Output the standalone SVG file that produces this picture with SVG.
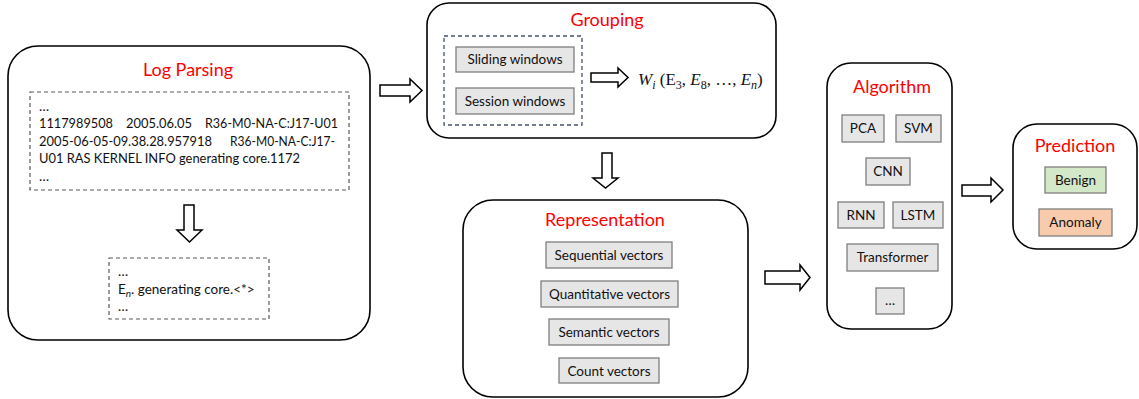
<svg xmlns="http://www.w3.org/2000/svg" width="1139" height="399" viewBox="0 0 1139 399">
<style>
.stage{fill:#fff;stroke:#000;stroke-width:1.6}
.title{font-family:Lato,"Open Sans",sans-serif;font-size:18px;fill:#ff0000;text-anchor:middle}
.item{fill:#e7e6e6;stroke:#7f7f7f;stroke-width:1.3}
.lbl{font-family:Lato,"Open Sans",sans-serif;font-size:13.5px;fill:#111;text-anchor:middle}
.log{font-family:Lato,"Open Sans",sans-serif;font-size:13.5px;fill:#111}
.dash{fill:none;stroke:#595959;stroke-width:1.2;stroke-dasharray:4 3}
.arrow{fill:#fff;stroke:#000;stroke-width:1.5;stroke-linejoin:miter}
.math{font-family:"Liberation Serif",serif;font-size:17px;fill:#111}
</style>
<rect width="1139" height="399" fill="#fff"/>

<g id="log-parsing">
<rect class="stage" x="8" y="46" width="362" height="294" rx="30"/>
<text class="title" x="188" y="76">Log Parsing</text>
<rect class="dash" x="30" y="92" width="319" height="98"/>
<text class="log" x="39" y="111">…</text>
<text class="log" x="39" y="128" textLength="74" lengthAdjust="spacingAndGlyphs">1117989508</text>
<text class="log" x="126" y="128" textLength="66" lengthAdjust="spacingAndGlyphs">2005.06.05</text>
<text class="log" x="205" y="128" textLength="133" lengthAdjust="spacingAndGlyphs">R36-M0-NA-C:J17-U01</text>
<text class="log" x="39" y="146" textLength="173" lengthAdjust="spacingAndGlyphs">2005-06-05-09.38.28.957918</text>
<text class="log" x="230" y="146" textLength="105" lengthAdjust="spacingAndGlyphs">R36-M0-NA-C:J17-</text>
<text class="log" x="39" y="163" textLength="261" lengthAdjust="spacingAndGlyphs">U01 RAS KERNEL INFO generating core.1172</text>
<text class="log" x="39" y="181">…</text>
<path class="arrow" d="M184,205 H194 V230 H202 L189.5,242 L177,230 H184 Z"/>
<rect class="dash" x="109" y="258" width="160" height="61"/>
<text class="log" x="118" y="276">…</text>
<text class="log" x="118" y="294">E<tspan font-size="10" font-style="italic" dy="3">n</tspan><tspan dy="-3">. generating core.&lt;*&gt;</tspan></text>
<text class="log" x="118" y="311">…</text>
</g>

<g id="grouping">
<rect class="stage" x="427" y="3" width="349" height="135" rx="22"/>
<text class="title" x="607" y="26">Grouping</text>
<rect x="444" y="36" width="138" height="89" fill="none" stroke="#44546a" stroke-width="1.3" stroke-dasharray="4 3"/>
<rect class="item" x="456" y="47" width="118" height="25"/>
<text class="lbl" x="515" y="64">Sliding windows</text>
<rect class="item" x="456" y="88" width="118" height="26"/>
<text class="lbl" x="515" y="106">Session windows</text>
<path class="arrow" d="M591,73 H618 V68 L628,77.5 L618,87 V82 H591 Z"/>
<text class="math" x="638" y="85"><tspan font-style="italic">W</tspan><tspan font-size="12" font-style="italic" dy="4">i</tspan><tspan dy="-4"> (E</tspan><tspan font-size="12" dy="4">3</tspan><tspan dy="-4">, </tspan><tspan font-style="italic">E</tspan><tspan font-size="12" dy="4">8</tspan><tspan dy="-4">, …, </tspan><tspan font-style="italic">E</tspan><tspan font-size="12" font-style="italic" dy="4">n</tspan><tspan dy="-4">)</tspan></text>
</g>

<g id="representation">
<rect class="stage" x="463" y="200" width="285" height="197" rx="30"/>
<text class="title" x="605" y="226">Representation</text>
<rect class="item" x="546" y="242" width="126" height="26"/>
<text class="lbl" x="609" y="260">Sequential vectors</text>
<rect class="item" x="541" y="281" width="137" height="26"/>
<text class="lbl" x="609.5" y="299">Quantitative vectors</text>
<rect class="item" x="549" y="319" width="120" height="26"/>
<text class="lbl" x="609" y="337">Semantic vectors</text>
<rect class="item" x="559" y="358" width="100" height="25"/>
<text class="lbl" x="609" y="376">Count vectors</text>
</g>

<g id="algorithm">
<rect class="stage" x="827" y="63" width="125" height="266" rx="24"/>
<text class="title" x="892" y="93">Algorithm</text>
<rect class="item" x="842" y="115" width="42" height="27"/>
<text class="lbl" x="863" y="133">PCA</text>
<rect class="item" x="896" y="115" width="45" height="27"/>
<text class="lbl" x="918.5" y="133">SVM</text>
<rect class="item" x="866" y="158" width="44" height="27"/>
<text class="lbl" x="888" y="176">CNN</text>
<rect class="item" x="838" y="202" width="46" height="26"/>
<text class="lbl" x="861" y="220">RNN</text>
<rect class="item" x="893" y="202" width="50" height="26"/>
<text class="lbl" x="918" y="220">LSTM</text>
<rect class="item" x="847" y="244" width="91" height="27"/>
<text class="lbl" x="892.5" y="262">Transformer</text>
<rect class="item" x="876" y="288" width="28" height="26"/>
<text class="lbl" x="890" y="305">…</text>
</g>

<g id="prediction">
<rect class="stage" x="1013" y="124" width="124" height="125" rx="24"/>
<text class="title" x="1075" y="152">Prediction</text>
<rect x="1045" y="167" width="61" height="26" fill="#d3e8c6" stroke="#7f7f7f" stroke-width="1.3"/>
<text class="lbl" x="1075.5" y="185">Benign</text>
<rect x="1039" y="209" width="73" height="27" fill="#f8cbad" stroke="#7f7f7f" stroke-width="1.3"/>
<text class="lbl" x="1075.5" y="227">Anomaly</text>
</g>

<g id="connectors">
<path class="arrow" d="M380,85 H410 V79 L422,90.5 L410,102 V96 H380 Z"/>
<path class="arrow" d="M602,153 H612 V178 H618 L605.5,188 L593,178 H602 Z"/>
<path class="arrow" d="M765,271 H800 V265 L810,277.5 L800,290 V284 H765 Z"/>
<path class="arrow" d="M962,185 H991 V178 L1003,190 L991,202 V196 H962 Z"/>
</g>
</svg>
